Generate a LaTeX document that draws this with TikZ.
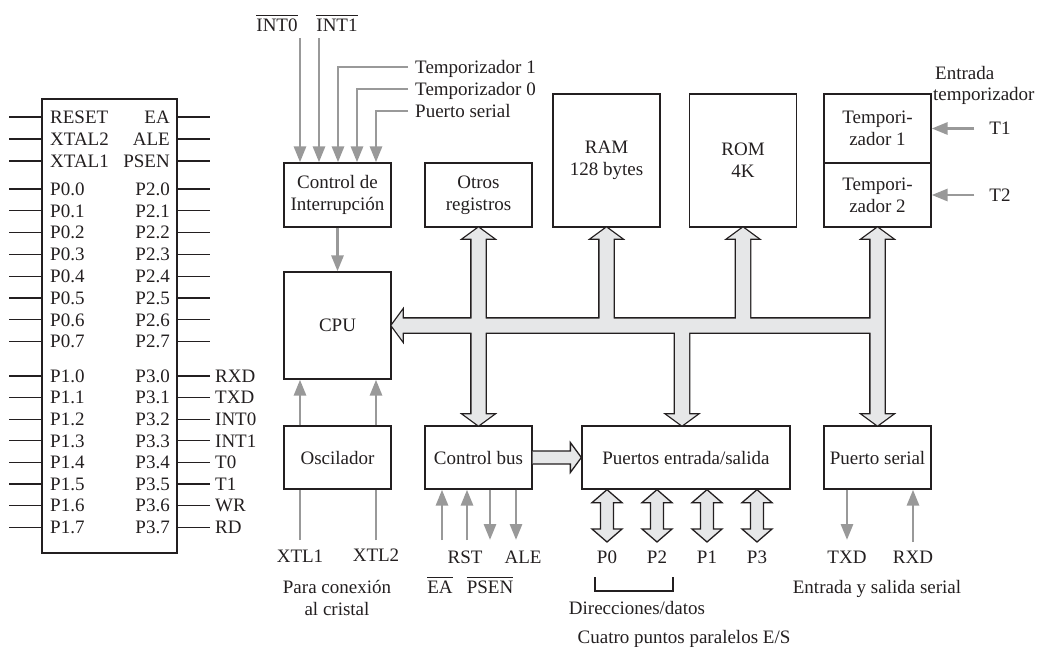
\documentclass[tikz,border=0pt]{standalone}
\usepackage{fontspec}
\setmainfont{Liberation Serif}
\usetikzlibrary{arrows.meta,calc}
\definecolor{ink}{HTML}{231F20}
\definecolor{gline}{HTML}{999999}
\definecolor{busfill}{HTML}{E6E7E8}
\newcommand\ovl[1]{\leavevmode\vbox{\hrule height 0.9pt\kern 2.8pt\hbox{#1}}}
% wide bus pieces (shaft half-width 7, head half-width 15, head length 11)
\newcommand\vdbl[2]{(#1) -- ++(15,11) -- ++(-8,0) -- ($(#2)+(7,-11)$) -- ++(8,0) -- (#2) -- ++(-15,-11) -- ++(8,0) -- ($(#1)+(-7,11)$) -- ++(-8,0) -- cycle}
\newcommand\vup[2]{(#1) -- ++(15,11) -- ++(-8,0) -- ($(#2)+(7,0)$) -- ++(-14,0) -- ($(#1)+(-7,11)$) -- ++(-8,0) -- cycle}
\newcommand\vdown[2]{($(#1)+(7,0)$) -- ($(#2)+(7,-11)$) -- ++(8,0) -- (#2) -- ++(-15,-11) -- ++(8,0) -- ($(#1)+(-7,0)$) -- cycle}
\newcommand\busH{(cpu.east) -- ++(11,-15) -- ++(0,8) -- ($(tim2.south |- cpu.east)+(0,-7)$) -- ++(0,14) -- ($(cpu.east)+(11,7)$) -- ++(0,8) -- cycle}
% small port double arrows
\newcommand\pdbl[2]{(#1) -- ++(15,13) -- ++(-8.5,0) -- ($(#2)+(6.5,-13)$) -- ++(8.5,0) -- (#2) -- ++(-15,-13) -- ++(8.5,0) -- ($(#1)+(-6.5,13)$) -- ++(-8.5,0) -- cycle}
\begin{document}
\begin{tikzpicture}[x=1pt,y=-1pt,
  every node/.style={font=\fontsize{19}{22}\selectfont, text=ink, inner sep=0pt},
  lab/.style={text height=12.4pt, text depth=0pt},
  box/.style={draw=ink, line width=1.3pt, align=center, minimum width=107pt},
  garrow/.style={draw=gline, line width=2.9pt, -{Triangle[length=16pt,width=12pt]}},
  gplain/.style={draw=gline, line width=2.9pt},
  pin/.style={draw=ink, line width=1.2pt},
  busout/.style={draw=ink, line width=2.6pt, line join=miter},
  busin/.style={fill=busfill},
  small/.style={draw=ink, line width=1.3pt, fill=busfill, line join=miter}
]
\useasboundingbox (0,0) rectangle (1037,646);

% ---------------- pin-out chip ----------------
\node[draw=ink, line width=1.3pt, minimum width=135pt, minimum height=454pt] (chip) at (109.5,326) {};
\foreach \ya/\na/\nb [count=\k] in {117/RESET/EA,139/XTAL2/ALE,161/XTAL1/PSEN} {
  \draw[pin] (chip.west |- 0,\ya) -- ++(-32,0);
  \draw[pin] (chip.east |- 0,\ya) -- ++(32,0);
  \node[lab, anchor=west] (cl\k) at (50,\ya) {\na};
  \node[lab, anchor=east] (cr\k) at (170,\ya) {\nb};
}
\foreach \i in {0,...,7} {
  \pgfmathsetmacro\yy{189+21.8*\i}
  \draw[pin] (chip.west |- 0,\yy) -- ++(-32,0);
  \draw[pin] (chip.east |- 0,\yy) -- ++(32,0);
  \node[lab, anchor=west] (pa\i) at (50,\yy) {P0.\i};
  \node[lab, anchor=east] (pb\i) at (170,\yy) {P2.\i};
}
\foreach \i/\xl in {0/RXD,1/TXD,2/INT0,3/INT1,4/T0,5/T1,6/WR,7/RD} {
  \pgfmathsetmacro\yy{376+21.6*\i}
  \draw[pin] (chip.west |- 0,\yy) -- ++(-32,0);
  \draw[pin] (chip.east |- 0,\yy) -- ++(32,0);
  \node[lab, anchor=west] (pc\i) at (50,\yy) {P1.\i};
  \node[lab, anchor=east] (pd\i) at (170,\yy) {P3.\i};
  \node[lab, anchor=west] (px\i) at (215,\yy) {\xl};
}

% ---------------- blocks ----------------
\node[box, minimum height=64pt] (ci) at (337.5,195) {Control de\\Interrupción};
\node[box, minimum height=64pt] (otros) at (478.5,195) {Otros\\registros};
\node[box, minimum height=133pt] (ram) at (606.5,160.5) {RAM\\128 bytes};
\node[box, minimum height=133pt] (rom) at (743,160.5) {ROM\\4K};
\node[box, minimum height=69pt] (tim1) at (877.5,128.5) {Tempori-\\zador 1};
\node[box, minimum height=64pt] (tim2) at (877.5,195) {Tempori-\\zador 2};
\node[box, minimum height=107pt] (cpu) at (337.5,325.5) {CPU};
\node[box, minimum height=63pt] (osc) at (337.5,457.5) {Oscilador};
\node[box, minimum height=63pt] (cbus) at (478.5,457.5) {Control bus};
\node[box, minimum height=63pt, minimum width=208pt] (io) at (686,457.5) {Puertos entrada/salida};
\node[box, minimum height=63pt] (ser) at (877.5,457.5) {Puerto serial};

% ---------------- wide bus ----------------
\coordinate (v5) at (682,0);
\path[busout] \busH \vdbl{otros.south}{cbus.north} \vup{ram.south}{ram.south |- cpu.east} \vup{rom.south}{rom.south |- cpu.east} \vdbl{tim2.south}{ser.north} \vdown{v5 |- cpu.east}{v5 |- io.north};
\path[busin] \busH \vdbl{otros.south}{cbus.north} \vup{ram.south}{ram.south |- cpu.east} \vup{rom.south}{rom.south |- cpu.east} \vdbl{tim2.south}{ser.north} \vdown{v5 |- cpu.east}{v5 |- io.north};

% control bus -> ports
\path[small] ($(cbus.east)+(0,-6.5)$) -- ($(io.west |- cbus.east)+(-11,-6.5)$) -- ++(0,-8.5) -- (io.west |- cbus.east) -- ++(-11,15) -- ++(0,-8.5) -- ($(cbus.east)+(0,6.5)$);

% port arrows
\coordinate (q0) at (607,542);
\coordinate (q2) at (657,542);
\coordinate (q1) at (707,542);
\coordinate (q3) at (757,542);
\path[small] \pdbl{q0 |- io.south}{q0};
\path[small] \pdbl{q2 |- io.south}{q2};
\path[small] \pdbl{q1 |- io.south}{q1};
\path[small] \pdbl{q3 |- io.south}{q3};
\node[lab] (lp0) at (607,557) {P0};
\node[lab] (lp2) at (657,557) {P2};
\node[lab] (lp1) at (707,557) {P1};
\node[lab] (lp3) at (757,557) {P3};
\draw[ink, line width=1.2pt] (595,577) |- (673,591) -- (673,577);
\node[lab] (ldir) at (637,608) {Direcciones/datos};
\node[lab] (lcua) at (684,637) {Cuatro puntos paralelos E/S};

% ---------------- interrupt inputs ----------------
\node[lab] (lint0) at (277,25) {\ovl{INT0}};
\node[lab] (lint1) at (337,25) {\ovl{INT1}};
\coordinate (i0) at (300,38);
\coordinate (i1) at (319,38);
\draw[garrow] (i0) -- (i0 |- ci.north);
\draw[garrow] (i1) -- (i1 |- ci.north);
\node[lab, anchor=west] (lt1) at (415,67) {Temporizador 1};
\node[lab, anchor=west] (lt0) at (415,89) {Temporizador 0};
\node[lab, anchor=west] (lps) at (415,111) {Puerto serial};
\coordinate (c1) at (338,0);
\coordinate (c2) at (357,0);
\coordinate (c3) at (376,0);
\draw[garrow] ($(lt1.west)+(-7,0)$) -| (c1 |- ci.north);
\draw[garrow] ($(lt0.west)+(-7,0)$) -| (c2 |- ci.north);
\draw[garrow] ($(lps.west)+(-7,0)$) -| (c3 |- ci.north);
\draw[garrow] (ci.south) -- (cpu.north);

% ---------------- timer inputs ----------------
\node[lab, anchor=west] (lent) at (935,73) {Entrada};
\node[lab, anchor=west] (ltem) at (933,94) {temporizador};
\node[lab] (lT1) at (1000,128.5) {T1};
\node[lab] (lT2) at (1000,195) {T2};
\draw[garrow] ($(lT1.west)+(-15,0)$) -- (tim1.east);
\draw[garrow] ($(lT2.west)+(-15,0)$) -- (tim2.east);

% ---------------- oscillator ----------------
\coordinate (xa) at (300,540);
\coordinate (xb) at (376,540);
\draw[gplain] (xa) -- (xa |- osc.south);
\draw[gplain] (xb) -- (xb |- osc.south);
\draw[garrow] (xa |- osc.north) -- (xa |- cpu.south);
\draw[garrow] (xb |- osc.north) -- (xb |- cpu.south);
\node[lab] (lx1) at (300,556) {XTL1};
\node[lab] (lx2) at (376,555) {XTL2};
\node[lab] (lpc) at (337,587) {Para conexión};
\node[lab] (lac) at (337,609) {al cristal};

% ---------------- control bus signals ----------------
\coordinate (sea) at (442,540);
\coordinate (srst) at (467,540);
\coordinate (spsen) at (490,540);
\coordinate (sale) at (516,540);
\draw[garrow] (sea) -- (sea |- cbus.south);
\draw[garrow] (srst) -- (srst |- cbus.south);
\draw[garrow] (spsen |- cbus.south) -- (spsen);
\draw[garrow] (sale |- cbus.south) -- (sale);
\node[lab] (lrst) at (465,557) {RST};
\node[lab] (lale) at (523,557) {ALE};
\node[lab] (lea) at (440,587) {\ovl{EA}};
\node[lab] (lpsen) at (490,587) {\ovl{PSEN}};

% ---------------- serial port ----------------
\coordinate (stx) at (847,540);
\coordinate (srx) at (913,542);
\draw[garrow] (stx |- ser.south) -- (stx);
\draw[garrow] (srx) -- (srx |- ser.south);
\node[lab] (ltxd) at (847,557) {TXD};
\node[lab] (lrxd) at (913,557) {RXD};
\node[lab] (lsio) at (877,587) {Entrada y salida serial};
\end{tikzpicture}
\end{document}
